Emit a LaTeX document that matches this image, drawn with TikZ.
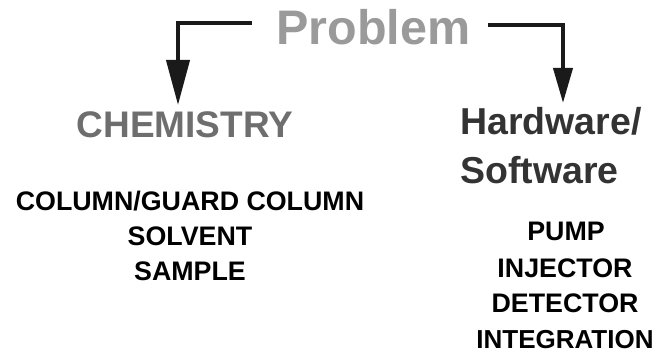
\documentclass[tikz,border=0pt]{standalone}
\usepackage{fontspec}
\setmainfont{Liberation Sans}
\usetikzlibrary{arrows.meta}
\definecolor{probgray}{HTML}{9A9A9A}
\definecolor{chemgray}{HTML}{6E6E6E}
\definecolor{hwgray}{HTML}{333333}
\definecolor{arrowink}{HTML}{1A1A1A}
\tikzset{
  txt/.style={inner sep=0pt, anchor=base, font=\bfseries},
  item/.style={txt, font=\fontsize{26.8}{30}\selectfont\bfseries, text=black},
  branch/.style={draw=arrowink, line width=4pt},
}
\begin{document}
\begin{tikzpicture}[x=1pt,y=-1pt]
  \useasboundingbox (0,0) rectangle (667,353);

  % title
  \node[txt, font=\fontsize{48.5}{52}\selectfont\bfseries, text=probgray] (prob) at (373.5,45) {Problem};

  % left branch
  \node[txt, font=\fontsize{37}{40}\selectfont\bfseries, text=chemgray] (chem) at (185,137) {CHEMISTRY};
  \node[item] (col) at (190,210) {COLUMN/GUARD COLUMN};
  \node[item] (solv) at (190,245) {SOLVENT};
  \node[item] (samp) at (190,280) {SAMPLE};

  % right branch
  \node[txt, anchor=base west, font=\fontsize{37.5}{41}\selectfont\bfseries, text=hwgray] (hw1) at (460,135) {Hardware/};
  \node[txt, anchor=base west, font=\fontsize{37.5}{41}\selectfont\bfseries, text=hwgray] (hw2) at (460,183) {Software};
  \node[item] (pump) at (566,240) {PUMP};
  \node[item] (inj) at (565,277) {INJECTOR};
  \node[item] (det) at (565,312) {DETECTOR};
  \node[item, font=\fontsize{26}{30}\selectfont\bfseries] (integ) at (565,348) {INTEGRATION};

  % connector end points
  \coordinate (lfrom) at (252,22.7);
  \coordinate (lto) at (178,105);
  \coordinate (rfrom) at (488,25);
  \coordinate (rto) at (563,103);

  \draw[branch, -{Triangle[length=45pt,width=23pt]}] (lfrom) -| (lto);
  \draw[branch, -{Triangle[length=35pt,width=19pt]}] (rfrom) -| (rto);
\end{tikzpicture}
\end{document}
